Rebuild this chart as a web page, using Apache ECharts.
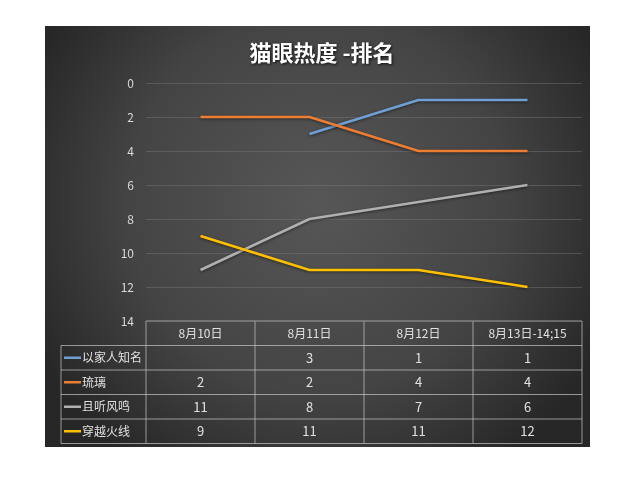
<!DOCTYPE html>
<html><head><meta charset="utf-8">
<script src="https://cdn.jsdelivr.net/npm/echarts@6/dist/echarts.min.js"></script>
<style>html,body{margin:0;background:#fff}#c{width:640px;height:480px}</style></head>
<body><div id="c"></div><script>
const title='猫眼热度 -排名';
const categories=['8月10日','8月11日','8月12日','8月13日-14;15'];
const seriesNames=['以家人知名','琉璃','且听风鸣','穿越火线'];
const colors=['#6f9fd3','#ed7d31','#b0b0b0','#ffc000'];
const s1=[null,3,1,1];
const s2=[2,2,4,4];
const s3=[11,8,7,6];
const s4=[9,11,11,12];
const allSeries=[s1,s2,s3,s4];

const font='"Noto Sans CJK SC","Noto Sans",sans-serif';
const chart=echarts.init(document.getElementById('c'),null,{renderer:'canvas'});
const gridL=146,gridR=582,gridT=83,gridB=321;
const option={
  backgroundColor:'#ffffff',
  animation:false,
  title:{text:title,left:317,top:37,textAlign:'center',
    textStyle:{color:'#ffffff',fontSize:22,fontWeight:'bold',fontFamily:font,
      textShadowColor:'rgba(0,0,0,0.8)',textShadowBlur:3,textShadowOffsetX:1,textShadowOffsetY:1}},
  grid:{left:gridL,right:640-gridR,top:gridT,bottom:480-gridB,containLabel:false},
  xAxis:{type:'category',data:categories,boundaryGap:true,
    axisLine:{show:false},axisTick:{show:false},axisLabel:{show:false},splitLine:{show:false}},
  yAxis:{type:'value',inverse:true,min:0,max:14,interval:2,
    axisLine:{show:false},axisTick:{show:false},
    axisLabel:{color:'#d9d9d9',fontSize:12,fontFamily:font,margin:12},
    splitLine:{lineStyle:{color:'rgba(120,120,120,0.45)',width:1}}},
  series:allSeries.map((d,i)=>({type:'line',name:seriesNames[i],data:d,showSymbol:false,symbol:'none',
    lineStyle:{color:colors[i],width:2.5,shadowColor:'rgba(0,0,0,0.5)',shadowBlur:3,shadowOffsetY:1},itemStyle:{color:colors[i]},connectNulls:false,z:5})),
  graphic:[]
};
chart.setOption(option);

// build table
const g=[];
g.push({type:'rect',z:-10,silent:true,shape:{x:45,y:26,width:545,height:421},
  style:{fill:new echarts.graphic.RadialGradient(0.5,0.42,0.75,[{offset:0,color:'#575757'},{offset:0.6,color:'#444444'},{offset:1,color:'#272727'}])}});
const colX=[gridL];
categories.forEach((c,i)=>{colX.push(gridL+(gridR-gridL)*(i+1)/categories.length);});
const rowH=24.5;
const tableTop=gridB;
const legendL=61;
const lineC='rgba(200,200,200,0.7)';
const nRows=seriesNames.length;
const bottomY=tableTop+rowH*(nRows+1);
g.push({type:'line',silent:true,shape:{x1:gridL,y1:tableTop,x2:gridR,y2:tableTop},style:{stroke:lineC,lineWidth:1}});
for(let k=1;k<=nRows+1;k++){
  const y=tableTop+rowH*k;
  g.push({type:'line',silent:true,shape:{x1:legendL,y1:y,x2:gridR,y2:y},style:{stroke:lineC,lineWidth:1}});
}
g.push({type:'line',silent:true,shape:{x1:legendL,y1:tableTop+rowH,x2:legendL,y2:bottomY},style:{stroke:lineC,lineWidth:1}});
colX.forEach(x=>g.push({type:'line',silent:true,shape:{x1:x,y1:tableTop,x2:x,y2:bottomY},style:{stroke:lineC,lineWidth:1}}));
categories.forEach((c,i)=>{
  const cx=chart.convertToPixel({xAxisIndex:0},c);
  g.push({type:'text',silent:true,x:cx,y:tableTop+rowH/2,style:{text:c,fill:'#e0e0e0',font:'12px '+font,align:'center',verticalAlign:'middle'}});
});
seriesNames.forEach((n,r)=>{
  const cy=tableTop+rowH*(r+1)+rowH/2;
  g.push({type:'line',silent:true,shape:{x1:legendL+3,y1:cy,x2:legendL+20,y2:cy},style:{stroke:colors[r],lineWidth:2.5}});
  g.push({type:'text',silent:true,x:legendL+21,y:cy,style:{text:n,fill:'#e0e0e0',font:'12px '+font,align:'left',verticalAlign:'middle'}});
  allSeries[r].forEach((v,i)=>{
    if(v===null) return;
    const cx=chart.convertToPixel({xAxisIndex:0},categories[i]);
    g.push({type:'text',silent:true,x:cx,y:cy,style:{text:String(v),fill:'#e0e0e0',font:'13px '+font,align:'center',verticalAlign:'middle'}});
  });
});
chart.setOption({graphic:g});
</script></body></html>
